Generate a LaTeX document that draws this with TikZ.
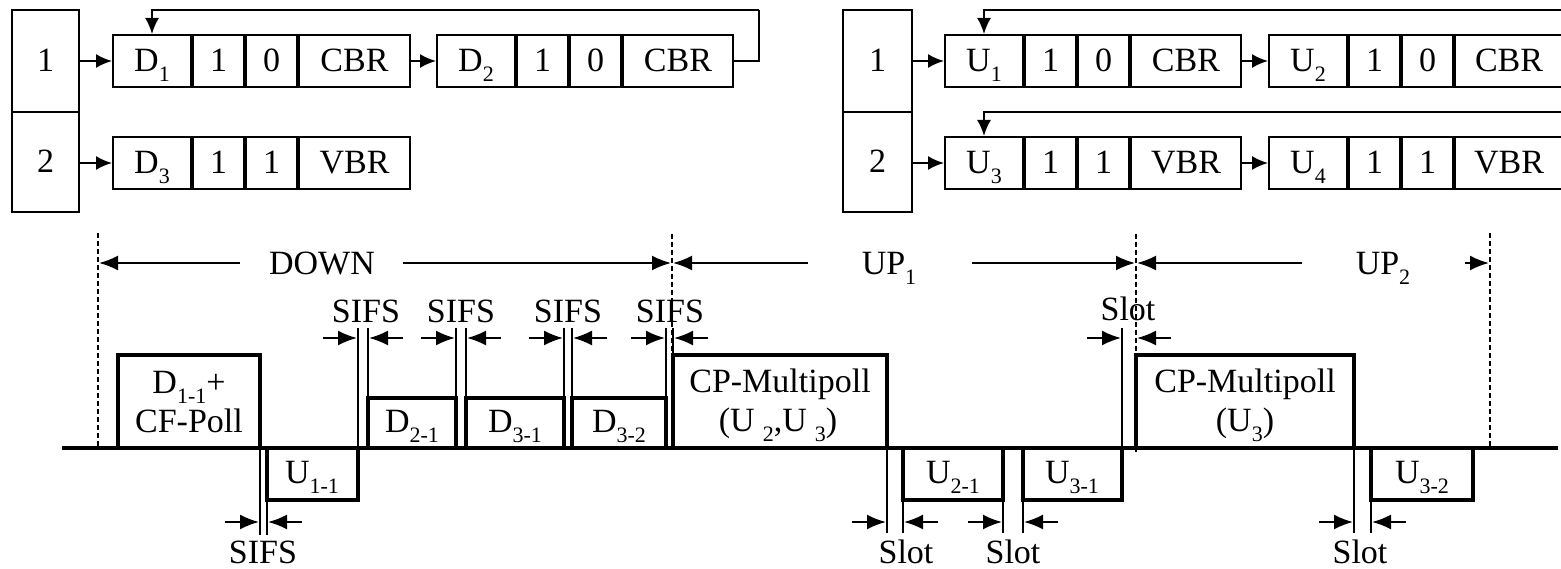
\documentclass[tikz,border=0pt]{standalone}
\usepackage{fontspec}
\setmainfont{Liberation Serif}
\usetikzlibrary{arrows.meta}
\newcommand{\sub}[1]{\raisebox{-10pt}{\fontsize{22}{22}\selectfont #1}}
\tikzset{
  every node/.style={inner sep=0pt, font=\fontsize{34}{38}\selectfont},
  cell/.style={draw, line width=2pt, minimum height=52pt, anchor=west, text height=22pt, text depth=0pt},
  qbig/.style={draw, line width=2pt, minimum width=67pt, text height=22pt, text depth=0pt},
  qline/.style={line width=2pt},
  qarrow/.style={line width=2pt, -{Latex[length=16pt,width=14pt]}},
  tbox/.style={line width=3.2pt, line join=miter},
  mline/.style={line width=2pt},
  marr/.style={line width=2pt, -{Latex[length=19pt,width=15pt]}},
  sarr/.style={line width=2pt, -{Latex[length=19pt,width=15pt]}},
  dline/.style={line width=1.7pt, dash pattern=on 5pt off 3pt},
  baseln/.style={line width=3.4pt},
  txt/.style={anchor=base}
}
\newcommand{\qrowcells}[8]{%
  % #1 prefix, #2 left x, #3 y, #4 label, #5 a, #6 b, #7 type, #8 last width
  \node[cell, minimum width=78pt] (#1a) at (#2,#3) {#4};
  \node[cell, minimum width=51pt] (#1b) at (#1a.east) {#5};
  \node[cell, minimum width=51pt] (#1c) at (#1b.east) {#6};
  \node[cell, minimum width=#8pt] (#1d) at (#1c.east) {#7};
}
\newcommand{\gapmark}[3]{%
  \draw[marr] ({#1-35},#3) -- ({#1-1},#3);
  \draw[marr] ({#2+35},#3) -- ({#2+1},#3);
}
\begin{document}
\begin{tikzpicture}[x=1pt,y=-1pt]
\useasboundingbox (0,0) rectangle (1561,569);

% ---------------- left queues (downlink)
\node[qbig, minimum height=102pt] (L1) at (45.5,61) {1};
\node[qbig, minimum height=100pt] (L2) at (45.5,162) {2};
\qrowcells{d1}{112}{61}{D\sub{1}}{1}{0}{CBR}{111}
\qrowcells{d2}{436}{61}{D\sub{2}}{1}{0}{CBR}{110}
\qrowcells{d3}{112}{163}{D\sub{3}}{1}{1}{VBR}{111}
\draw[qarrow] (L1.east) -- (d1a.west);
\draw[qarrow] (L2.east |- d3a.west) -- (d3a.west);
\draw[qarrow] (d1d.east) -- (d2a.west);
\coordinate (fbL) at (759,10);
\draw[qline] (d2d.east) -| (fbL);
\draw[qarrow] (fbL) -| (d1a.north);

% ---------------- right queues (uplink)
\node[qbig, minimum height=102pt, minimum width=69pt] (R1) at (877.5,61) {1};
\node[qbig, minimum height=100pt, minimum width=69pt] (R2) at (877.5,162) {2};
\qrowcells{u1}{944}{61}{U\sub{1}}{1}{0}{CBR}{110}
\qrowcells{u2}{1268}{61}{U\sub{2}}{1}{0}{CBR}{108}
\qrowcells{u3}{944}{163}{U\sub{3}}{1}{1}{VBR}{110}
\qrowcells{u4}{1268}{163}{U\sub{4}}{1}{1}{VBR}{108}
\draw[qarrow] (R1.east) -- (u1a.west);
\draw[qarrow] (R2.east |- u3a.west) -- (u3a.west);
\draw[qarrow] (u1d.east) -- (u2a.west);
\draw[qarrow] (u3d.east) -- (u4a.west);
\coordinate (fbR1) at (1565,10);
\coordinate (fbR2) at (1565,112);
\coordinate (stR1) at (1565,61);
\coordinate (stR2) at (1565,163);
\draw[qline] (u2d.east) -- (stR1);
\draw[qline] (u4d.east) -- (stR2);
\draw[qarrow] (fbR1) -| (u1a.north);
\draw[qarrow] (fbR2) -| (u3a.north);

% ---------------- period boundaries
\draw[dline] (98,233) -- (98,448);
\draw[dline] (672,234) -- (672,448);
\draw[dline] (1136,234) -- (1136,452);
\draw[dline] (1490,233) -- (1490,448);

\node[txt] (down) at (322,275) {DOWN};
\node[txt] (up1) at (889,275) {UP\sub{1}};
\node[txt] (up2) at (1383,275) {UP\sub{2}};
\draw[sarr] (240,263) -- (99,263);
\draw[sarr] (403,263) -- (671,263);
\draw[sarr] (808,263) -- (673,263);
\draw[sarr] (972,263) -- (1135,263);
\draw[sarr] (1302,263) -- (1137,263);
\draw[sarr] (1465,263) -- (1489,263);

% ---------------- time line
\coordinate (t0) at (62,448);
\coordinate (t1) at (1558,448);
\draw[baseln] (t0) -- (t1);

% frames
\draw[tbox] (118,448) -- (118,355) -- (260,355) -- (260,448);
\draw[tbox] (267,448) -- (267,500) -- (358,500) -- (358,448);
\draw[tbox] (368,448) -- (368,398) -- (456,398) -- (456,448);
\draw[tbox] (466,448) -- (466,398) -- (564,398) -- (564,448);
\draw[tbox] (572,448) -- (572,398) -- (666,398) -- (666,448);
\draw[tbox] (673,448) -- (673,355) -- (887,355) -- (887,448);
\draw[tbox] (903,448) -- (903,500) -- (1003,500) -- (1003,448);
\draw[tbox] (1023,448) -- (1023,500) -- (1122,500) -- (1122,448);
\draw[tbox] (1136,448) -- (1136,355) -- (1354,355) -- (1354,448);
\draw[tbox] (1371,448) -- (1371,500) -- (1473,500) -- (1473,448);

% gap marker lines
\draw[mline] (260,448) -- (260,535);
\draw[mline] (267,448) -- (267,535);
\draw[mline] (358,448) -- (358,328);
\draw[mline] (368,398) -- (368,328);
\draw[mline] (456,398) -- (456,328);
\draw[mline] (466,398) -- (466,328);
\draw[mline] (564,398) -- (564,328);
\draw[mline] (572,398) -- (572,328);
\draw[mline] (666,398) -- (666,328);
\draw[mline] (673,355) -- (673,328);
\draw[mline] (887,448) -- (887,533);
\draw[mline] (903,448) -- (903,533);
\draw[mline] (1003,448) -- (1003,533);
\draw[mline] (1023,448) -- (1023,533);
\draw[mline] (1122,448) -- (1122,328);
\draw[mline] (1354,448) -- (1354,533);
\draw[mline] (1371,448) -- (1371,533);

% gap arrows
\gapmark{260}{267}{522}
\gapmark{358}{368}{338}
\gapmark{456}{466}{338}
\gapmark{564}{572}{338}
\gapmark{666}{673}{338}
\gapmark{887}{903}{522}
\gapmark{1003}{1023}{522}
\gapmark{1122}{1136}{338}
\gapmark{1354}{1371}{522}

% gap labels
\node[txt] (s0) at (263,563) {SIFS};
\node[txt] (s1) at (366,323) {SIFS};
\node[txt] (s2) at (461,323) {SIFS};
\node[txt] (s3) at (568,323) {SIFS};
\node[txt] (s4) at (670,323) {SIFS};
\node[txt] (sl1) at (906,563) {Slot};
\node[txt] (sl2) at (1013,563) {Slot};
\node[txt] (sl3) at (1128,320) {Slot};
\node[txt] (sl4) at (1360,563) {Slot};

% frame labels
\node[txt] (f1a) at (189,393) {D\sub{1-1}+};
\node[txt] (f1b) at (189,432) {CF-Poll};
\node[txt] (f2) at (312,483) {U\sub{1-1}};
\node[txt] (f3) at (412,432) {D\sub{2-1}};
\node[txt] (f4) at (515,432) {D\sub{3-1}};
\node[txt] (f5) at (619,432) {D\sub{3-2}};
\node[txt] (f6a) at (780,392) {CP-Multipoll};
\node[txt] (f6b) at (778,431) {(U\hspace{8pt}\sub{2},U\hspace{8pt}\sub{3})};
\node[txt] (f7) at (953,483) {U\sub{2-1}};
\node[txt] (f8) at (1072,483) {U\sub{3-1}};
\node[txt] (f9a) at (1245,392) {CP-Multipoll};
\node[txt] (f9b) at (1245,431) {(U\sub{3})};
\node[txt] (f10) at (1422,483) {U\sub{3-2}};
\end{tikzpicture}
\end{document}
